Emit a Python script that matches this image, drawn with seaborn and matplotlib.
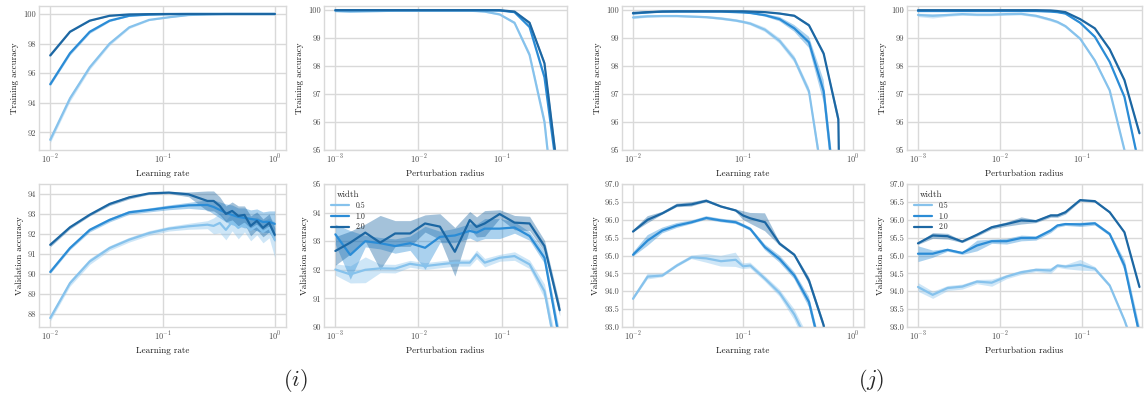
import numpy as np
import pandas as pd
import matplotlib
matplotlib.use("Agg")
import matplotlib.pyplot as plt
import matplotlib.ticker as mticker
import seaborn as sns

sns.set_theme(style="whitegrid")
plt.rcParams['font.family'] = ['cmr10', 'DejaVu Serif']
plt.rcParams['mathtext.fontset'] = 'cm'
plt.rcParams['axes.formatter.use_mathtext'] = True

WIDTHS = ['0.5', '1.0', '2.0']
PAL = ['#86c2ec', '#2b8cd6', '#1c67a3']

# x grids
LR_I = [0.01, 0.015, 0.0225, 0.0338, 0.0506, 0.0759, 0.114, 0.171, 0.251, 0.285,
        0.324, 0.367, 0.417, 0.473, 0.537, 0.610, 0.692, 0.785, 0.891, 1.0]
LR_J = [0.01, 0.0136, 0.0185, 0.0251, 0.0341, 0.0464, 0.0631, 0.0858, 0.1, 0.1166,
        0.1585, 0.2154, 0.2929, 0.398, 0.541, 0.736, 1.0]
RAD = [0.001, 0.00151, 0.00229, 0.00346, 0.00523, 0.00791, 0.012, 0.0181, 0.0274,
       0.0414, 0.05, 0.0626, 0.0947, 0.143, 0.217, 0.328, 0.5]

# (i) training accuracy vs learning rate
a_05 = [91.5, 94.3, 96.4, 98.0, 99.1, 99.6, 99.78, 99.93, 99.97, 99.98, 99.99, 100, 100, 100, 100, 100, 100, 100, 100, 100]
a_10 = [95.25, 97.35, 98.8, 99.55, 99.88, 99.96, 99.99, 100, 100, 100, 100, 100, 100, 100, 100, 100, 100, 100, 100, 100]
a_20 = [97.2, 98.8, 99.55, 99.88, 99.97, 99.99, 100, 100, 100, 100, 100, 100, 100, 100, 100, 100, 100, 100, 100, 100]
a_05_err = [0.2, 0.2, 0.15, 0.12, 0.08, 0.05, 0.03, 0.02, 0.01, 0.01, 0, 0, 0, 0, 0, 0, 0, 0, 0, 0]
a_10_err = [0.1, 0.12, 0.1, 0.06, 0.03, 0.02, 0.01, 0, 0, 0, 0, 0, 0, 0, 0, 0, 0, 0, 0, 0]
a_20_err = [0.06, 0.04, 0.03, 0.02, 0.01, 0, 0, 0, 0, 0, 0, 0, 0, 0, 0, 0, 0, 0, 0, 0]

# (i) training accuracy vs perturbation radius
b_05 = [99.97, 99.95, 99.96, 99.97, 99.98, 99.98, 99.98, 99.98, 99.98, 99.98, 99.97, 99.95, 99.85, 99.55, 98.4, 96.0, 91.0]
b_10 = [100, 100, 100, 100, 100, 100, 100, 100, 100, 100, 100, 100, 99.99, 99.93, 99.4, 97.6, 93.5]
b_20 = [100, 100, 100, 100, 100, 100, 100, 100, 100, 100, 100, 100, 100, 99.95, 99.55, 98.1, 93.6]
b_05_err = [0.02, 0.03, 0.02, 0.02, 0.02, 0.02, 0.02, 0.02, 0.02, 0.02, 0.02, 0.02, 0.03, 0.05, 0.1, 0.15, 0.3]
b_10_err = [0.01, 0.01, 0.01, 0.01, 0.01, 0.01, 0.01, 0.01, 0.01, 0.01, 0.01, 0.01, 0.01, 0.02, 0.05, 0.08, 0.2]
b_20_err = [0.01, 0.01, 0.01, 0.01, 0.01, 0.01, 0.01, 0.01, 0.01, 0.01, 0.01, 0.01, 0.01, 0.02, 0.05, 0.08, 0.2]

# (i) validation accuracy vs learning rate
c_05 = [87.78, 89.53, 90.62, 91.29, 91.71, 92.04, 92.26, 92.38, 92.46, 92.4, 92.55, 92.2, 92.6, 92.3, 92.5, 92.2, 92.4, 92.1, 92.3, 91.7]
c_10 = [90.09, 91.29, 92.2, 92.7, 93.08, 93.2, 93.33, 93.43, 93.45, 93.35, 93.2, 93.05, 92.95, 92.85, 92.8, 92.75, 92.7, 92.6, 92.6, 92.5]
c_20 = [91.45, 92.33, 92.96, 93.5, 93.83, 94.03, 94.07, 93.98, 93.65, 93.65, 93.4, 93.0, 93.15, 92.9, 92.95, 92.4, 92.65, 92.3, 92.55, 91.95]
c_05_err = [0.15, 0.15, 0.15, 0.12, 0.12, 0.12, 0.12, 0.15, 0.2, 0.4, 0.5, 0.5, 0.45, 0.55, 0.4, 0.55, 0.45, 0.55, 0.5, 0.9]
c_10_err = [0.08, 0.08, 0.1, 0.1, 0.1, 0.1, 0.12, 0.15, 0.25, 0.35, 0.4, 0.45, 0.5, 0.45, 0.5, 0.45, 0.55, 0.5, 0.55, 0.65]
c_20_err = [0.1, 0.08, 0.06, 0.08, 0.08, 0.05, 0.05, 0.12, 0.5, 0.5, 0.45, 0.4, 0.45, 0.5, 0.45, 0.5, 0.45, 0.45, 0.45, 0.35]

# (i) validation accuracy vs perturbation radius
d_05 = [92.01, 91.84, 92.0, 92.05, 92.04, 92.21, 92.13, 92.19, 92.25, 92.25, 92.54, 92.25, 92.42, 92.48, 92.19, 91.25, 88.5]
d_10 = [93.24, 92.52, 93.0, 92.93, 92.83, 92.93, 92.77, 93.15, 93.2, 93.36, 93.3, 93.44, 93.44, 93.48, 93.18, 92.42, 89.5]
d_20 = [92.66, 92.95, 93.3, 92.95, 93.27, 93.27, 93.62, 93.51, 92.63, 93.74, 93.5, 93.62, 93.95, 93.65, 93.62, 92.83, 90.59]
d_05_err = [0.2, 0.3, 0.45, 0.15, 0.15, 0.12, 0.12, 0.12, 0.12, 0.12, 0.15, 0.15, 0.12, 0.15, 0.15, 0.25, 0.4]
d_10_err = [0.35, 0.85, 0.2, 0.2, 0.25, 0.25, 0.75, 0.2, 0.25, 0.25, 0.3, 0.35, 0.35, 0.2, 0.15, 0.2, 0.3]
d_20_err = [0.5, 0.4, 0.3, 0.95, 0.45, 0.45, 0.3, 0.45, 0.85, 0.3, 0.35, 0.45, 0.15, 0.25, 0.25, 0.2, 0.2]

# (j) training accuracy vs learning rate
e_05 = [99.74, 99.78, 99.79, 99.79, 99.77, 99.75, 99.7, 99.63, 99.58, 99.52, 99.3, 98.9, 98.25, 97.1, 93.7, 85.0, 40.0]
e_10 = [99.88, 99.92, 99.95, 99.95, 99.95, 99.95, 99.95, 99.93, 99.92, 99.9, 99.82, 99.68, 99.35, 98.85, 97.1, 92.3, 50.0]
e_20 = [99.9, 99.93, 99.95, 99.96, 99.96, 99.96, 99.96, 99.96, 99.96, 99.95, 99.93, 99.88, 99.8, 99.46, 98.45, 96.1, 60.0]
e_05_err = [0.06, 0.05, 0.04, 0.04, 0.04, 0.04, 0.05, 0.05, 0.05, 0.06, 0.08, 0.1, 0.12, 0.15, 0.3, 0.5, 1.0]
e_10_err = [0.03, 0.03, 0.02, 0.02, 0.02, 0.02, 0.02, 0.03, 0.03, 0.03, 0.05, 0.08, 0.12, 0.2, 0.4, 0.5, 1.0]
e_20_err = [0.02, 0.02, 0.01, 0.01, 0.01, 0.01, 0.01, 0.01, 0.01, 0.01, 0.02, 0.03, 0.04, 0.05, 0.08, 0.2, 1.0]

# (j) training accuracy vs perturbation radius
f_05 = [99.83, 99.8, 99.83, 99.86, 99.84, 99.84, 99.86, 99.87, 99.8, 99.66, 99.58, 99.43, 98.98, 98.2, 97.13, 95.0, 92.0]
f_10 = [99.97, 99.97, 99.97, 99.97, 99.97, 99.97, 99.97, 99.97, 99.97, 99.95, 99.93, 99.88, 99.55, 99.05, 98.15, 96.9, 94.4]
f_20 = [100, 100, 100, 100, 100, 100, 100, 100, 100, 99.99, 99.97, 99.93, 99.68, 99.35, 98.6, 97.5, 95.6]
f_05_err = [0.06, 0.08, 0.05, 0.04, 0.04, 0.04, 0.04, 0.04, 0.05, 0.05, 0.05, 0.05, 0.05, 0.05, 0.05, 0.08, 0.1]
f_10_err = [0.01, 0.01, 0.01, 0.01, 0.01, 0.01, 0.01, 0.01, 0.01, 0.01, 0.01, 0.02, 0.03, 0.03, 0.03, 0.05, 0.08]
f_20_err = [0.01, 0.01, 0.01, 0.01, 0.01, 0.01, 0.01, 0.01, 0.01, 0.01, 0.01, 0.01, 0.02, 0.02, 0.03, 0.04, 0.06]

# (j) validation accuracy vs learning rate
g_05 = [93.79, 94.41, 94.44, 94.72, 94.95, 94.92, 94.84, 94.88, 94.7, 94.72, 94.35, 93.95, 93.35, 92.5, 91.0, 88.0, 80.0]
g_10 = [95.02, 95.42, 95.7, 95.84, 95.93, 96.05, 95.98, 95.93, 95.84, 95.74, 95.23, 94.9, 94.44, 93.7, 92.0, 89.0, 82.0]
g_20 = [95.67, 96.0, 96.18, 96.4, 96.43, 96.53, 96.37, 96.26, 96.12, 96.04, 95.93, 95.33, 95.02, 94.3, 93.05, 90.0, 85.0]
g_05_err = [0.05, 0.08, 0.05, 0.05, 0.05, 0.12, 0.15, 0.2, 0.08, 0.08, 0.08, 0.1, 0.15, 0.2, 0.3, 0.5, 1.0]
g_10_err = [0.06, 0.15, 0.08, 0.07, 0.05, 0.05, 0.05, 0.05, 0.05, 0.05, 0.08, 0.1, 0.1, 0.15, 0.2, 0.5, 1.0]
g_20_err = [0.03, 0.1, 0.04, 0.05, 0.06, 0.04, 0.03, 0.03, 0.12, 0.15, 0.25, 0.05, 0.04, 0.1, 0.1, 0.3, 1.0]

# (j) validation accuracy vs perturbation radius
h_05 = [94.12, 93.9, 94.09, 94.13, 94.27, 94.24, 94.41, 94.53, 94.6, 94.58, 94.72, 94.69, 94.74, 94.63, 94.16, 93.19, 92.0]
h_10 = [95.05, 95.05, 95.16, 95.07, 95.28, 95.4, 95.4, 95.49, 95.49, 95.7, 95.84, 95.88, 95.87, 95.9, 95.6, 94.72, 92.8]
h_20 = [95.34, 95.56, 95.54, 95.39, 95.58, 95.79, 95.88, 95.98, 95.96, 96.12, 96.12, 96.21, 96.55, 96.52, 96.21, 95.65, 94.12]
h_05_err = [0.12, 0.1, 0.07, 0.07, 0.06, 0.1, 0.06, 0.06, 0.05, 0.08, 0.05, 0.06, 0.15, 0.06, 0.05, 0.06, 0.1]
h_10_err = [0.22, 0.1, 0.04, 0.04, 0.15, 0.06, 0.08, 0.08, 0.06, 0.06, 0.05, 0.04, 0.06, 0.05, 0.05, 0.15, 0.2]
h_20_err = [0.03, 0.08, 0.08, 0.03, 0.04, 0.05, 0.06, 0.1, 0.04, 0.05, 0.05, 0.05, 0.03, 0.03, 0.03, 0.03, 0.05]


def make_df(x, means, errs):
    # three rows per point: low, mean, high -> median line + full-range band
    rows = []
    for w, m, e in zip(WIDTHS, means, errs):
        for xi, mi, ei in zip(x, m, e):
            for v in (mi - ei, mi, mi + ei):
                rows.append((xi, v, w))
    return pd.DataFrame(rows, columns=['x', 'acc', 'width'])


fig = plt.figure(figsize=(11.46, 3.95), dpi=100)
W, H = 1146.0, 395.0
cols = [(39, 247), (324, 243), (622, 242), (907, 235)]
rows_px = [(6, 144), (184, 143)]

def add_ax(col, row):
    l, w = cols[col]
    t, h = rows_px[row]
    return fig.add_axes([l / W, (H - t - h) / H, w / W, h / H])

panels = [
    (0, 0, LR_I, (a_05, a_10, a_20), (a_05_err, a_10_err, a_20_err), 'Learning rate', 'Training accuracy',
     (90.81, 100.54), [92, 94, 96, 98, 100], (10**-2.1, 10**0.1), '%d', False),
    (1, 0, RAD, (b_05, b_10, b_20), (b_05_err, b_10_err, b_20_err), 'Perturbation radius', 'Training accuracy',
     (95, 100.15), [95, 96, 97, 98, 99, 100], (10**-3.137, 10**-0.213), '%d', False),
    (0, 1, LR_I, (c_05, c_10, c_20), (c_05_err, c_10_err, c_20_err), 'Learning rate', 'Validation accuracy',
     (87.33, 94.5), [88, 89, 90, 91, 92, 93, 94], (10**-2.1, 10**0.1), '%d', False),
    (1, 1, RAD, (d_05, d_10, d_20), (d_05_err, d_10_err, d_20_err), 'Perturbation radius', 'Validation accuracy',
     (90, 95), [90, 91, 92, 93, 94, 95], (10**-3.137, 10**-0.213), '%d', True),
    (2, 0, LR_J, (e_05, e_10, e_20), (e_05_err, e_10_err, e_20_err), 'Learning rate', 'Training accuracy',
     (95, 100.15), [95, 96, 97, 98, 99, 100], (10**-2.1, 10**0.1), '%d', False),
    (3, 0, RAD, (f_05, f_10, f_20), (f_05_err, f_10_err, f_20_err), 'Perturbation radius', 'Training accuracy',
     (95, 100.15), [95, 96, 97, 98, 99, 100], (10**-3.134, 10**-0.27), '%d', False),
    (2, 1, LR_J, (g_05, g_10, g_20), (g_05_err, g_10_err, g_20_err), 'Learning rate', 'Validation accuracy',
     (93, 97), [93, 93.5, 94, 94.5, 95, 95.5, 96, 96.5, 97], (10**-2.1, 10**0.1), '%.1f', False),
    (3, 1, RAD, (h_05, h_10, h_20), (h_05_err, h_10_err, h_20_err), 'Perturbation radius', 'Validation accuracy',
     (93, 97), [93, 93.5, 94, 94.5, 95, 95.5, 96, 96.5, 97], (10**-3.134, 10**-0.27), '%.1f', True),
]

for col, row, x, means, errs, xl, yl, ylim, yticks, xlim, fmt, show_leg in panels:
    ax = add_ax(col, row)
    df = make_df(x, means, errs)
    sns.lineplot(data=df, x='x', y='acc', hue='width', hue_order=WIDTHS, palette=PAL,
                 estimator='median', errorbar=('pi', 100), linewidth=1.6,
                 err_kws={'alpha': 0.4, 'linewidth': 0}, legend=show_leg, ax=ax)
    ax.set_xscale('log')
    ax.set_xlim(*xlim)
    ax.set_ylim(*ylim)
    ax.set_yticks(yticks)
    ax.yaxis.set_major_formatter(mticker.FormatStrFormatter(fmt))
    ax.xaxis.set_minor_locator(mticker.NullLocator())
    ax.set_xlabel(xl, fontsize=6.5, color='0.1', labelpad=3)
    ax.set_ylabel(yl, fontsize=6.5, color='0.1', labelpad=3)
    ax.tick_params(axis='both', labelsize=6, colors='0.3', pad=2, length=0)
    ax.grid(True, color='0.85', linewidth=1.0)
    for s in ax.spines.values():
        s.set_color('0.85')
        s.set_linewidth(1.0)
    if show_leg:
        sns.move_legend(ax, 'upper left', title='width', frameon=False, fontsize=5.5,
                        title_fontsize=6.5, handlelength=2.4, labelspacing=0.3)

fig.text(295 / W, 1 - 380 / H, r'$(i)$', fontsize=16, ha='center', va='center')
fig.text(871 / W, 1 - 380 / H, r'$(j)$', fontsize=16, ha='center', va='center')

fig.savefig('out.png', dpi=100)
